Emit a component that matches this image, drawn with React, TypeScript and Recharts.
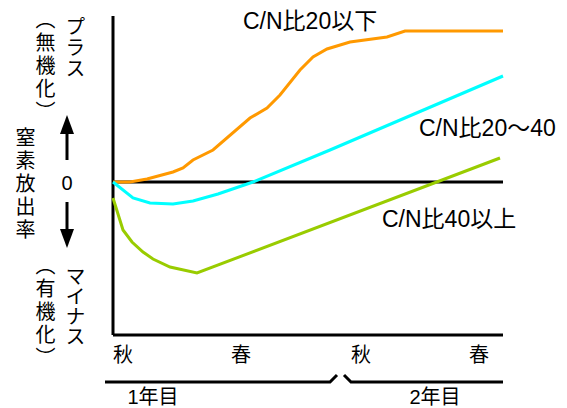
import { LineChart, Line, XAxis, YAxis, ReferenceLine } from 'recharts';

// 窒素放出率の模式図（C/N比別）
const lowCN = [
  { x: 0, y: 0 }, { x: 17, y: 0 }, { x: 34, y: 3 }, { x: 60, y: 10 }, { x: 70, y: 14 },
  { x: 80, y: 22 }, { x: 100, y: 32 }, { x: 137, y: 64 }, { x: 154, y: 74 }, { x: 167, y: 87 },
  { x: 187, y: 112 }, { x: 200, y: 125 }, { x: 214, y: 133 }, { x: 237, y: 140 },
  { x: 274, y: 145 }, { x: 292, y: 151 }, { x: 390, y: 151 },
];
const midCN = [
  { x: 0, y: 0 }, { x: 20, y: -16 }, { x: 37, y: -21 }, { x: 60, y: -22 }, { x: 80, y: -19 },
  { x: 105, y: -12 }, { x: 140, y: 0 }, { x: 217, y: 32 }, { x: 390, y: 106 },
];
const highCN = [
  { x: 0, y: -16 }, { x: 10, y: -48 }, { x: 19, y: -60 }, { x: 30, y: -70 }, { x: 40, y: -77 },
  { x: 57, y: -85 }, { x: 84, y: -91 }, { x: 387, y: 24 },
];

const seasonTicks = [10, 128, 248, 366];
const seasonLabels = ['秋', '春', '秋', '春'];

const seriesNames = ['C/N比20以下', 'C/N比20～40', 'C/N比40以上'];
const seriesColors = ['#ff9900', '#00ffff', '#99cc00'];

const jp = '"Noto Sans CJK JP", sans-serif';
const mixed = '"Liberation Sans", "Noto Sans CJK JP", sans-serif';

// 縦書きラベル
const VText = ({ cx, top, spacing, children }: { cx: number; top: number; spacing: number; children: string }) => (
  <div
    style={{
      position: 'absolute',
      left: cx - 10,
      top,
      width: 20,
      writingMode: 'vertical-rl',
      fontFamily: jp,
      fontSize: 20,
      lineHeight: '20px',
      letterSpacing: spacing,
      fontFeatureSettings: '"vhal" 1',
      color: '#000',
      whiteSpace: 'nowrap',
    }}
  >
    {children}
  </div>
);

export default function App() {
  return (
    <div style={{ position: 'absolute', left: 0, top: 0, width: 567, height: 408, background: '#fff' }}>
      <LineChart
        width={567}
        height={408}
        margin={{ top: 16, right: 64, bottom: 0, left: 113 }}
      >
        <XAxis
          type="number"
          dataKey="x"
          domain={[0, 390]}
          ticks={seasonTicks}
          tickFormatter={(v: number) => seasonLabels[seasonTicks.indexOf(v)] ?? ''}
          height={73}
          tickLine={false}
          tickSize={0}
          tickMargin={13}
          axisLine={{ stroke: '#000', strokeWidth: 3 }}
          tick={{ fill: '#000', fontSize: 20, fontFamily: jp }}
          allowDuplicatedCategory={false}
        />
        <YAxis type="number" dataKey="y" domain={[-153, 166]} width={0} tick={false} tickLine={false} axisLine={false} />
        <ReferenceLine x={0} stroke="#000" strokeWidth={3} />
        <ReferenceLine y={0} stroke="#000" strokeWidth={3} />
        <Line data={lowCN} dataKey="y" stroke={seriesColors[0]} strokeWidth={3} dot={false} isAnimationActive={false} />
        <Line data={midCN} dataKey="y" stroke={seriesColors[1]} strokeWidth={3} dot={false} isAnimationActive={false} />
        <Line data={highCN} dataKey="y" stroke={seriesColors[2]} strokeWidth={3} dot={false} isAnimationActive={false} />
      </LineChart>

      <VText cx={75} top={16} spacing={1}>プラス</VText>
      <VText cx={45} top={19} spacing={3}>（無機化）</VText>
      <VText cx={25} top={127} spacing={3}>窒素放出率</VText>
      <VText cx={75} top={266} spacing={0}>マイナス</VText>
      <VText cx={45} top={265} spacing={3}>（有機化）</VText>

      <svg width={567} height={408} style={{ position: 'absolute', left: 0, top: 0, pointerEvents: 'none' }}>
        {/* series labels */}
        <text x={243} y={21} dominantBaseline="central" fontFamily={mixed} fontSize={23} fill="#000">{seriesNames[0]}</text>
        <text x={419} y={128} dominantBaseline="central" fontFamily={mixed} fontSize={23} fill="#000">{seriesNames[1]}</text>
        <text x={382} y={219} dominantBaseline="central" fontFamily={mixed} fontSize={23} fill="#000">{seriesNames[2]}</text>

        {/* arrows and zero */}
        <line x1={67} y1={128} x2={67} y2={160} stroke="#000" strokeWidth={3} />
        <polygon points="60,134 74,134 67,115" fill="#000" />
        <text x={67} y={183} textAnchor="middle" dominantBaseline="central" fontFamily={mixed} fontSize={20} fill="#000">0</text>
        <line x1={67} y1={202} x2={67} y2={235} stroke="#000" strokeWidth={3} />
        <polygon points="60,229 74,229 67,248" fill="#000" />

        {/* year timeline */}
        <polyline points="105,382 330,382 337,375" fill="none" stroke="#000" strokeWidth={3} />
        <polyline points="344,375 351,382 503,382" fill="none" stroke="#000" strokeWidth={3} />
        <text x={153} y={397} textAnchor="middle" dominantBaseline="central" fontFamily={mixed} fontSize={20} fill="#000">1年目</text>
        <text x={435} y={397} textAnchor="middle" dominantBaseline="central" fontFamily={mixed} fontSize={20} fill="#000">2年目</text>
      </svg>
    </div>
  );
}
